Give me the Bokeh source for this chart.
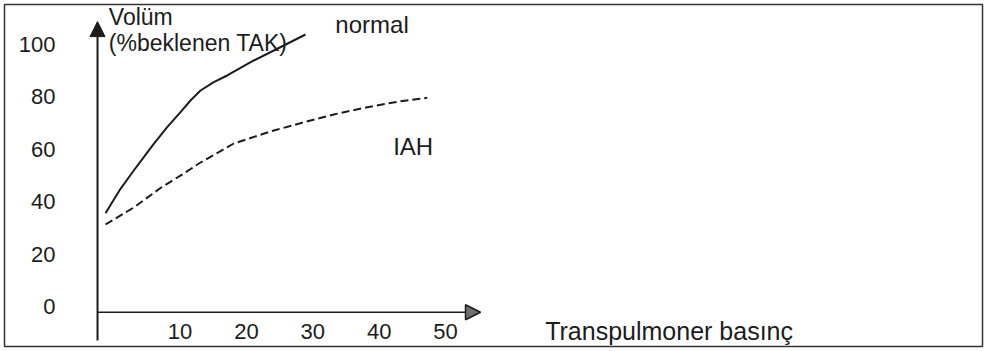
from bokeh.plotting import figure
from bokeh.models import LinearAxis, FixedTicker, Arrow, NormalHead, Label, Range1d
from bokeh.embed import file_html
from bokeh.resources import INLINE

# ---- data ----
pressure_normal = [-1.22, 1.04, 3.04, 4.55, 6.05, 8.07, 10.08, 11.58, 13.09, 15.09,
                   17.11, 19.11, 21.11, 25.63, 28.90]
volume_normal = [35.67, 44.96, 51.92, 56.98, 62.09, 68.41, 74.12, 78.57, 82.38, 85.53,
                 88.09, 91.02, 93.80, 99.50, 103.69]

pressure_iah = [-1.22, 3.04, 7.06, 10.57, 13.09, 15.72, 18.10, 20.62, 24.13, 28.15,
                33.16, 38.19, 43.22, 47.23]
volume_iah = [31.37, 37.84, 45.26, 50.78, 54.97, 58.77, 62.20, 64.29, 67.15, 69.93,
              73.24, 76.02, 78.30, 79.60]

y_ticks = [0, 20, 40, 60, 80, 100]
x_ticks = [10, 20, 30, 40, 50]

y_title_1 = "Volüm"
y_title_2 = "(%beklenen TAK)"
x_title = "Transpulmoner basınç"
series_names = ["normal", "IAH"]

FONT = "Liberation Sans"
INK = "#1c1c1c"

p = figure(width=988, height=350, output_backend="svg", toolbar_location=None,
           x_range=Range1d(-16.43, 130.86), y_range=Range1d(-15.07, 115.11),
           x_axis_type=None, y_axis_type=None,
           min_border_left=4, min_border_top=4, min_border_right=6, min_border_bottom=4,
           background_fill_color="white", border_fill_color="white")
p.grid.visible = False
p.outline_line_color = "#333333"
p.outline_line_width = 1.5

# axes (tick labels) placed at the arrow positions
yaxis = LinearAxis(fixed_location=-2.42, ticker=FixedTicker(ticks=y_ticks))
xaxis = LinearAxis(fixed_location=-2.02, ticker=FixedTicker(ticks=x_ticks))
for ax in (yaxis, xaxis):
    ax.axis_line_color = None
    ax.major_tick_line_color = None
    ax.minor_tick_line_color = None
    ax.major_tick_out = 0
    ax.major_tick_in = 0
    ax.major_label_text_font = FONT
    ax.major_label_text_font_size = "22px"
    ax.major_label_text_color = INK
yaxis.major_label_text_align = "left"
yaxis.major_label_standoff = 42
xaxis.major_label_standoff = 12
p.add_layout(yaxis, "left")
p.add_layout(xaxis, "below")

# axis arrows
p.add_layout(Arrow(x_start=-2.42, y_start=-12.8, x_end=-2.42, y_end=108.6,
                   line_color=INK, line_width=2,
                   end=NormalHead(size=15, fill_color=INK, line_color=INK, line_width=1)))
p.add_layout(Arrow(x_start=-2.42, y_start=-2.02, x_end=55.26, y_end=-2.02,
                   line_color=INK, line_width=1.5,
                   end=NormalHead(size=15, fill_color="#6e6e6e", line_color=INK, line_width=1.5)))

# curves
p.line(pressure_normal, volume_normal, line_color=INK, line_width=2, line_join="round")
p.line(pressure_iah, volume_iah, line_color=INK, line_width=2, line_dash="8 4", line_join="round")

# texts
def lab(x, y, t, size):
    p.add_layout(Label(x=x, y=y, text=t, text_font=FONT, text_font_size=size,
                       text_color=INK, text_baseline="alphabetic", text_align="left"))

lab(-0.72, 110.5, y_title_1, "23px")
lab(-0.72, 100.4, y_title_2, "23px")
lab(33.4, 107.4, series_names[0], "24px")
lab(42.1, 61.1, series_names[1], "24px")
lab(65.0, -8.98, x_title, "25px")

open("out.html", "w").write(file_html(p, INLINE))
